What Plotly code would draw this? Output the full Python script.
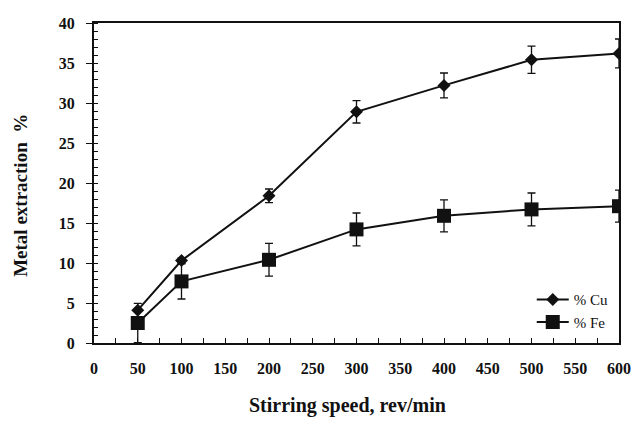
import plotly.graph_objects as go

# Stirring speed (rev/min)
speed = [50, 100, 200, 300, 400, 500, 600]

# Metal extraction (%) with standard deviation
cu_pct = [4.1, 10.3, 18.4, 28.9, 32.2, 35.4, 36.2]
cu_err = [0.0, 0.3, 0.85, 1.4, 1.55, 1.7, 1.8]
fe_pct = [2.5, 7.7, 10.4, 14.2, 15.9, 16.7, 17.1]
fe_err = [2.45, 2.2, 2.05, 2.05, 2.0, 2.05, 2.0]

x_ticks = list(range(0, 601, 50))
y_ticks = list(range(0, 41, 5))

SERIF = "Liberation Serif"
INK = "#111111"

fig = go.Figure()
fig.add_trace(go.Scatter(
    x=speed, y=cu_pct, name="% Cu", mode="lines+markers",
    line=dict(color=INK, width=2),
    marker=dict(symbol="diamond", size=10, color=INK),
    error_y=dict(type="data", array=cu_err, visible=True,
                 color=INK, thickness=1.3, width=4),
))
fig.add_trace(go.Scatter(
    x=speed, y=fe_pct, name="% Fe", mode="lines+markers",
    line=dict(color=INK, width=2),
    marker=dict(symbol="square", size=14, color=INK),
    error_y=dict(type="data", array=fe_err, visible=True,
                 color=INK, thickness=1.3, width=4),
))

fig.update_layout(
    width=632, height=429, autosize=False,
    margin=dict(l=94, r=13, t=23, b=86, autoexpand=False),
    paper_bgcolor="white", plot_bgcolor="white",
    font=dict(family=SERIF, color=INK),
    showlegend=True,
    legend=dict(
        x=0.99, y=0.015, xanchor="right", yanchor="bottom",
        bgcolor="rgba(0,0,0,0)", itemwidth=32, tracegroupgap=0,
        font=dict(family=SERIF, size=15, color=INK),
    ),
    xaxis=dict(
        range=[0, 600], tickvals=x_ticks, ticktext=[str(v) for v in x_ticks],
        automargin=False,
        ticks="inside", ticklen=5, tickwidth=1.2, tickcolor=INK,
        minor=dict(dtick=25, tick0=0, ticks="inside", ticklen=5,
                   tickwidth=1.2, tickcolor=INK),
        showgrid=False, zeroline=False,
        showline=True, linewidth=2, linecolor=INK, mirror=True,
        tickfont=dict(family=SERIF, size=16, color=INK, weight="bold"),
        ticklabelstandoff=10,
    ),
    yaxis=dict(
        range=[0, 40], tickvals=y_ticks, ticktext=[str(v) for v in y_ticks],
        automargin=False,
        ticks="outside", ticklen=6, tickwidth=1.2, tickcolor=INK,
        minor=dict(dtick=1, tick0=0, ticks="inside", ticklen=4,
                   tickwidth=1.2, tickcolor=INK),
        showgrid=False, zeroline=False,
        showline=True, linewidth=2, linecolor=INK, mirror=True,
        tickfont=dict(family=SERIF, size=16, color=INK, weight="bold"),
        ticklabelstandoff=8,
    ),
    annotations=[
        dict(text="<b>Stirring speed, rev/min</b>", xref="paper", yref="paper",
             x=0.483, y=-0.195, xanchor="center", yanchor="middle",
             showarrow=False, font=dict(family=SERIF, size=20, color=INK)),
        dict(text="<b>Metal extraction  %</b>", xref="paper", yref="paper",
             x=-0.139, y=0.46, xanchor="center", yanchor="middle", textangle=-90,
             showarrow=False, font=dict(family=SERIF, size=19, color=INK)),
    ],
)

fig.write_html("out.html")
